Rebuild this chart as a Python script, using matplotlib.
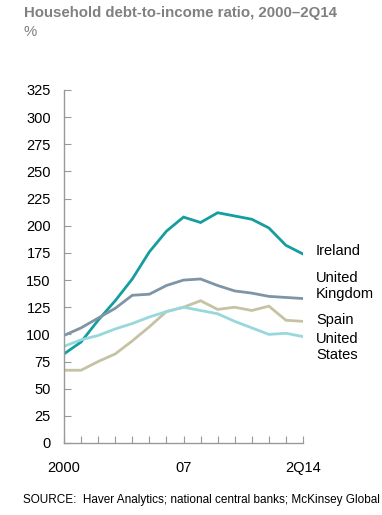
import matplotlib
matplotlib.use('Agg')
import matplotlib.pyplot as plt

plt.rcParams['font.family'] = ['Liberation Sans', 'DejaVu Sans']

# one point per year, 2000 .. 2Q14
periods = list(range(15))
xtick_labels = {0: '2000', 7: '07', 14: '2Q14'}

ireland = [82, 93, 113, 131, 151, 176, 195, 208, 203, 212, 209, 206, 198, 182, 174]
united_kingdom = [99, 106, 115, 124, 136, 137, 145, 150, 151, 145, 140, 138, 135, 134, 133]
spain = [67, 67, 75, 82, 94, 107, 121, 125, 131, 123, 125, 122, 126, 113, 112]
united_states = [89, 95, 99, 105, 110, 116, 121, 125, 122, 119, 112, 106, 100, 101, 98]

series = [
    ('Ireland', ireland, '#169d9f', 251),
    ('United\nKingdom', united_kingdom, '#7d95a6', 286),
    ('Spain', spain, '#c6c2a4', 320),
    ('United\nStates', united_states, '#97d8dc', 347),
]

W, H = 382, 515
fig = plt.figure(figsize=(W / 100, H / 100), dpi=100)
ax = fig.add_axes([64 / W, 1 - 443 / H, 239 / W, 353 / H])

for name, vals, color, label_y in series:
    ax.plot(periods, vals, color=color, lw=2.0, solid_joinstyle='miter')
    fig.text(316 / W, 1 - label_y / H, name, fontsize=10.5, color='black',
             va='center', ha='left', linespacing=1.2)

ax.set_xlim(0, 14)
ax.set_ylim(0, 325)
ax.set_yticks(range(0, 326, 25))
ax.set_xticks(periods)
ax.set_xticklabels([xtick_labels.get(p, '') for p in periods])

for side in ('top', 'right'):
    ax.spines[side].set_visible(False)
for side in ('left', 'bottom'):
    ax.spines[side].set_color('#999999')
    ax.spines[side].set_linewidth(1.0)

ax.tick_params(axis='y', direction='in', length=5, color='#999999',
               labelsize=10.5, pad=9.5)
ax.tick_params(axis='x', direction='in', length=5, color='#999999',
               labelsize=10.5, pad=13)

fig.text(24 / W, 1 - 13 / H, 'Household debt-to-income ratio, 2000\u20132Q14',
         fontsize=10.8, fontweight='bold', color='#808080', va='center', ha='left')
fig.text(24 / W, 1 - 32 / H, '%', fontsize=10.8, color='#808080',
         va='center', ha='left')
# the reference is cropped right after "Global"
fig.text(23 / W, 1 - 500 / H,
         'SOURCE:  Haver Analytics; national central banks; McKinsey Global',
         fontsize=8.5, color='black', va='center', ha='left')

fig.savefig('out.png', dpi=100)
